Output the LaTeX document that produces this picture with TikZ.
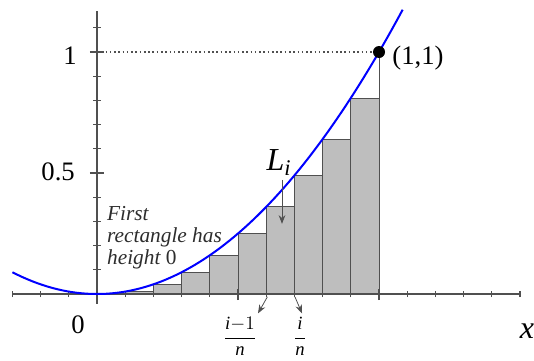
\documentclass[tikz,border=0pt]{standalone}
\usepackage{fontspec}
\setmainfont{Liberation Serif}
\usetikzlibrary{arrows.meta}
\definecolor{grigiorett}{RGB}{190,190,190}
\definecolor{bordorett}{RGB}{80,80,80}
\definecolor{grigioasse}{RGB}{80,80,80}
\definecolor{testogrigio}{RGB}{45,45,45}

\begin{document}
\begin{tikzpicture}[x=211.5pt, y=181.5pt,
    asse/.style={grigioasse, line width=1.7pt},
    tacca/.style={grigioasse, line width=1pt},
    rett/.style={draw=bordorett, fill=grigiorett, line width=0.6pt},
    freccia/.style={-{Stealth[length=6.5pt, width=5pt]}, bordorett, line width=0.6pt},
    numero/.style={font=\fontsize{20}{24}\selectfont}]
    \useasboundingbox (-0.344,-0.2727) rectangle (1.5496,1.2149);
    %rettangoli
    \foreach \k in {0,...,9}
        \draw[rett] (\k/10,0) rectangle ({\k/10+0.1},{(\k/10)^2});
    \coordinate (P) at (1,1);
    \draw[bordorett, line width=0.6pt] (1,0) -- (P);
    %asse x
    \draw[asse] (-0.3,0) -- (1.5,0);
    \foreach \t in {-3,...,15}
        \draw[tacca] (\t/10,-0.013) -- (\t/10,0.013);
    \draw[tacca] (0.5,-0.025) -- (0.5,0.02);
    \draw[tacca] (1,-0.025) -- (1,0.02);
    %asse y
    \draw[asse] (0,-0.04) -- (0,1.17);
    \foreach \t in {1,...,11}
        \draw[tacca] (-0.013,\t/10) -- (0.013,\t/10);
    \draw[tacca] (-0.025,0.5) -- (0.025,0.5);
    \draw[tacca] (-0.025,1) -- (0.025,1);
    %tratteggio e parabola
    \draw[dotted, grigioasse, line width=1.2pt] (0,1) -- (P);
    \draw[blue, line width=1.5pt, domain=-0.3:1.085, samples=80] plot (\x,{\x*\x});
    \fill (P) circle (4.5pt);
    %etichette
    \node[numero] (uno) at (-0.096,0.985) {1};
    \node[numero] (mezzo) at (-0.138,0.504) {0.5};
    \node[numero] (zero) at (-0.067,-0.128) {0};
    \node[numero] (puntolab) at (1.138,0.975) {(1,1)};
    \node[font=\fontsize{24}{28}\selectfont\itshape] (asx) at (1.525,-0.152) {x};
    \node[anchor=north west, align=left, text=testogrigio, inner sep=0pt,
        font=\fontsize{16}{16.5}\selectfont\itshape] (primo) at (0.035,0.362)
        {First\\rectangle has\\height {\upshape 0}};
    %L_i
    \node[font=\fontsize{24}{28}\selectfont\itshape] (Li) at (0.645,0.545) {L\textsubscript{i}};
    \coordinate (Lpunta) at (0.656,0.29);
    \draw[freccia] (Li.south -| Lpunta) -- (Lpunta);
    %estremi dell'intervallo
    \coordinate (taccaA) at (0.604,-0.012);
    \coordinate (taccaB) at (0.702,-0.012);
    \coordinate (puntaA) at (0.571,-0.080);
    \coordinate (puntaB) at (0.727,-0.080);
    \node[font=\fontsize{14}{16}\selectfont] (fracA) at (0.507,-0.176)
        {$\displaystyle\frac{\textit{i}{-}1}{\textit{n}}$};
    \node[font=\fontsize{14}{16}\selectfont] (fracB) at (0.72,-0.176)
        {$\displaystyle\frac{\textit{i}}{\textit{n}}$};
    \draw[freccia] (taccaA) -- (puntaA);
    \draw[freccia] (taccaB) -- (puntaB);
\end{tikzpicture}
\end{document}
